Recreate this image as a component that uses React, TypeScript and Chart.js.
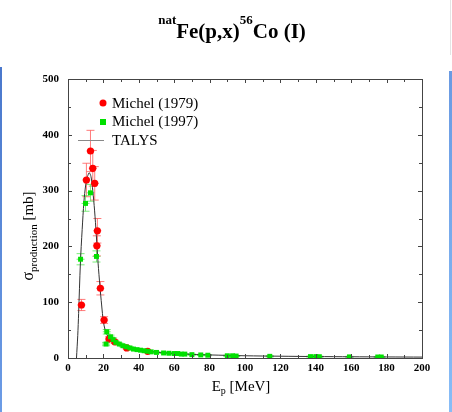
import React, { useEffect, useRef } from "react";
import { Chart, registerables } from "chart.js";
Chart.register(...registerables);

const michel1979E = [7.6, 10.4, 12.7, 14.0, 15.1, 16.3, 16.6, 18.3, 20.4, 23.2, 26.4, 33.2, 45.0];
const michel1979S = [95, 319, 371, 340, 313, 201, 228, 125, 68, 34, 29, 18, 12];
const michel1979Err = [10, 30, 37, 32, 30, 18, 22, 12, 6, 4, 3, 2, 1.5];

const michel1997E = [7.1, 9.9, 12.7, 16.1, 21.9, 21.5, 24, 25.5, 27, 29, 31, 33, 35, 37, 39, 41, 43, 45, 47, 50, 54, 57, 60, 62, 64, 66, 70, 75, 79, 90, 93, 95, 114, 137, 140, 142, 159, 175, 177];
const michel1997S = [177, 277, 296, 182, 47, 25, 38, 33, 28, 25, 22, 20, 18, 16, 15, 14, 13, 12, 11, 10, 9, 8.5, 8, 8, 7, 7, 6, 5.5, 5, 4, 4, 3.5, 3, 2.5, 2.5, 2.3, 2, 1.8, 1.8];
const michel1997Err = [10, 14, 15, 10, 4, 3, 3, 3, 2, 2, 2, 2, 2, 1.5, 1.5, 1.5, 1, 1, 1, 1, 1, 1, 1, 1, 1, 1, 1, 1, 1, 1, 1, 1, 1, 1, 1, 1, 1, 1, 1];

const talysE = [4.8, 5.5, 6, 7, 8, 9, 10, 11, 12, 13, 14, 15, 16, 17, 18, 19, 20, 21, 22, 24, 26, 28, 30, 35, 40, 45, 50, 60, 70, 80, 100, 120, 140, 160, 180, 200];
const talysS = [0, 40, 80, 170, 230, 280, 310, 325, 332, 325, 300, 265, 220, 170, 130, 95, 65, 50, 42, 34, 29, 25, 22, 18, 15, 12.5, 10.5, 8, 6.5, 5.5, 4, 3.2, 2.6, 2.2, 1.9, 1.6];

const xMin = 0, xMax = 200, xStep = 20, xMinor = 10;
const yMin = 0, yMax = 500, yStep = 100, yMinor = 50;

const SERIF = "'Liberation Serif', 'Times New Roman', serif";

const decor = {
  id: "decor",
  beforeDatasetsDraw(chart: any) {
    const ctx = chart.ctx;
    const xs = chart.scales.x, ys = chart.scales.y;
    const drawErr = (E: number[], S: number[], Er: number[], color: string) => {
      ctx.save();
      ctx.strokeStyle = color;
      ctx.lineWidth = 1;
      for (let i = 0; i < E.length; i++) {
        const px = xs.getPixelForValue(E[i]);
        const py1 = ys.getPixelForValue(S[i] + Er[i]);
        const py2 = ys.getPixelForValue(Math.max(0, S[i] - Er[i]));
        const py = ys.getPixelForValue(S[i]);
        ctx.beginPath();
        ctx.moveTo(px, py1); ctx.lineTo(px, py2);
        ctx.moveTo(px - 4, py1); ctx.lineTo(px + 4, py1);
        ctx.moveTo(px - 4, py2); ctx.lineTo(px + 4, py2);
        ctx.moveTo(px - 4, py); ctx.lineTo(px + 4, py);
        ctx.stroke();
      }
      ctx.restore();
    };
    drawErr(michel1979E, michel1979S, michel1979Err, "rgba(255,90,90,0.8)");
    drawErr(michel1997E, michel1997S, michel1997Err, "rgba(90,230,90,0.8)");
  },
  afterDraw(chart: any) {
    const ctx = chart.ctx;
    const { left, right, top, bottom } = chart.chartArea;
    const xs = chart.scales.x, ys = chart.scales.y;
    ctx.save();
    // frame
    ctx.strokeStyle = "#444";
    ctx.lineWidth = 1;
    ctx.strokeRect(Math.round(left) + 0.5, Math.round(top) + 0.5, Math.round(right - left), Math.round(bottom - top));
    // inner ticks
    ctx.beginPath();
    for (let v = xMin; v <= xMax; v += xMinor) {
      const px = Math.round(xs.getPixelForValue(v)) + 0.5;
      const len = v % xStep === 0 ? 4 : 3;
      ctx.moveTo(px, bottom); ctx.lineTo(px, bottom - len);
      ctx.moveTo(px, top); ctx.lineTo(px, top + len);
    }
    for (let v = yMin; v <= yMax; v += yMinor) {
      const py = Math.round(ys.getPixelForValue(v)) + 0.5;
      const len = v % yStep === 0 ? 4 : 3;
      ctx.moveTo(left, py); ctx.lineTo(left + len, py);
      ctx.moveTo(right, py); ctx.lineTo(right - len, py);
    }
    ctx.stroke();

    // legend
    ctx.fillStyle = "#ff0000";
    ctx.beginPath(); ctx.arc(103, 103, 3.5, 0, Math.PI * 2); ctx.fill();
    ctx.fillStyle = "#00e000";
    ctx.fillRect(100, 119, 6, 6);
    ctx.strokeStyle = "#888";
    ctx.beginPath(); ctx.moveTo(78, 140.5); ctx.lineTo(104, 140.5); ctx.stroke();
    ctx.fillStyle = "#000";
    ctx.font = `15px ${SERIF}`;
    ctx.textBaseline = "middle";
    ctx.textAlign = "left";
    ctx.fillText("Michel (1979)", 112, 104);
    ctx.fillText("Michel (1997)", 112, 122);
    ctx.fillText("TALYS", 112, 141);

    // x title
    ctx.textBaseline = "alphabetic";
    const big = `15px ${SERIF}`, small = `10px ${SERIF}`;
    ctx.font = big; const wE = ctx.measureText("E").width;
    ctx.font = small; const wp = ctx.measureText("p").width;
    ctx.font = big; const wR = ctx.measureText(" [MeV]").width;
    let x0 = 241 - (wE + wp + wR) / 2;
    ctx.font = big; ctx.fillText("E", x0, 391);
    ctx.font = small; ctx.fillText("p", x0 + wE, 394);
    ctx.font = big; ctx.fillText(" [MeV]", x0 + wE + wp, 391);

    // y title
    ctx.save();
    ctx.translate(33, 236);
    ctx.rotate(-Math.PI / 2);
    ctx.font = `16px ${SERIF}`; const ws = ctx.measureText("σ").width;
    ctx.font = `11px ${SERIF}`; const wprod = ctx.measureText("production").width;
    ctx.font = big; const wmb = ctx.measureText(" [mb]").width;
    let y0 = -(ws + wprod + wmb) / 2;
    ctx.font = `16px ${SERIF}`; ctx.fillText("σ", y0, 0);
    ctx.font = `11px ${SERIF}`; ctx.fillText("production", y0 + ws, 4);
    ctx.font = big; ctx.fillText(" [mb]", y0 + ws + wprod, 0);
    ctx.restore();

    // chart title
    const tb = `bold 21px ${SERIF}`, ts = `bold 13px ${SERIF}`;
    const parts: [string, string, number][] = [["nat", ts, 24], ["Fe(p,x)", tb, 38], ["56", ts, 24], ["Co (I)", tb, 38]];
    let tw = 0;
    for (const p of parts) { ctx.font = p[1]; tw += ctx.measureText(p[0]).width; }
    let tx = 232 - tw / 2;
    for (const p of parts) { ctx.font = p[1]; ctx.fillText(p[0], tx, p[2]); tx += ctx.measureText(p[0]).width; }

    // side decorations
    const gl = ctx.createLinearGradient(0, 67, 0, 412);
    gl.addColorStop(0, "#4a78cc"); gl.addColorStop(1, "#6c9ce6");
    ctx.fillStyle = gl; ctx.fillRect(0, 67, 2, 345);
    const gr = ctx.createLinearGradient(0, 71, 0, 412);
    gr.addColorStop(0, "#6a9ae2"); gr.addColorStop(1, "#88bdf7");
    ctx.fillStyle = gr; ctx.fillRect(449, 71, 3, 341);
    ctx.fillStyle = "#e4e4e4"; ctx.fillRect(450, 0, 1, 55);
    ctx.restore();
  },
};

export default function App() {
  const ref = useRef<HTMLCanvasElement>(null);
  useEffect(() => {
    if (!ref.current) return;
    const chart = new Chart(ref.current, {
      type: "scatter",
      data: {
        datasets: [
          {
            label: "Michel (1997)",
            data: michel1997E.map((e, i) => ({ x: e, y: michel1997S[i] })),
            pointStyle: "rect",
            pointRadius: 3.5,
            backgroundColor: "#00e000",
            borderWidth: 0,
          },
          {
            label: "Michel (1979)",
            data: michel1979E.map((e, i) => ({ x: e, y: michel1979S[i] })),
            pointStyle: "circle",
            pointRadius: 3.6,
            backgroundColor: "#ff0000",
            borderWidth: 0,
          },
          {
            label: "TALYS",
            data: talysE.map((e, i) => ({ x: e, y: talysS[i] })),
            showLine: true,
            borderColor: "#333",
            borderWidth: 1,
            pointRadius: 0,
            tension: 0.3,
          },
        ],
      } as any,
      options: {
        animation: false,
        responsive: false,
        devicePixelRatio: 1,
        layout: { padding: { top: 79, right: 30, left: 0, bottom: 0 } },
        plugins: { legend: { display: false }, tooltip: { enabled: false } },
        scales: {
          x: {
            type: "linear",
            min: xMin,
            max: xMax,
            ticks: { stepSize: xStep, color: "#000", font: { family: SERIF, size: 11, weight: "bold" }, padding: 4, maxRotation: 0 },
            grid: { display: false, drawTicks: false },
            border: { display: false },
            afterFit: (s: any) => { s.height = 54; },
          },
          y: {
            type: "linear",
            min: yMin,
            max: yMax,
            ticks: { stepSize: yStep, color: "#000", font: { family: SERIF, size: 11, weight: "bold" }, padding: 9 },
            grid: { display: false, drawTicks: false },
            border: { display: false },
            afterFit: (s: any) => { s.width = 68; },
          },
        },
      } as any,
      plugins: [decor],
    });
    return () => chart.destroy();
  }, []);
  return (
    <div style={{ position: "absolute", left: 0, top: 0, width: 452, height: 412, background: "#fff" }}>
      <canvas ref={ref} width={452} height={412} />
    </div>
  );
}
